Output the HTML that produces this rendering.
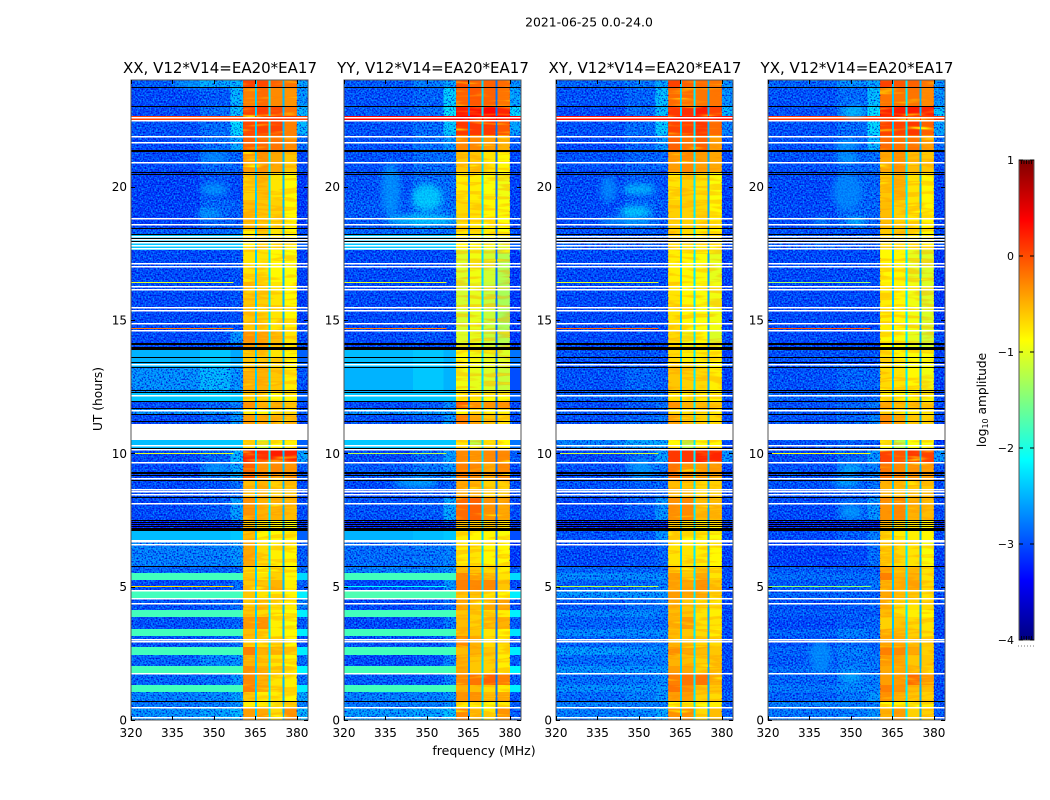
<!DOCTYPE html>
<html lang="en">
<head>
<meta charset="utf-8">
<title>2021-06-25 waterfall</title>
<style>
html,body{margin:0;padding:0;background:#fff;width:1050px;height:800px;overflow:hidden}
svg{display:block}
text{font-family:"DejaVu Sans","Liberation Sans",sans-serif;fill:#000}
.tick-label{font-size:12px}
.panel-title{font-size:15px;text-anchor:middle}
</style>
</head>
<body>
<svg id="chart" width="1050" height="800" viewBox="0 0 1050 800" xmlns="http://www.w3.org/2000/svg">
  <defs>
    <filter id="speckle" x="0" y="0" width="100%" height="100%" color-interpolation-filters="sRGB">
      <feTurbulence type="fractalNoise" baseFrequency="0.62" numOctaves="1" seed="7" result="n"/>
      <feColorMatrix in="n" type="matrix" values="0 0 0 0 0  0 0 0 0 0  0 0 0 0 0.82  -3.2 0 0 0 1.7" result="dark"/>
      <feColorMatrix in="n" type="matrix" values="0 0 0 0 0  0 0 0 0 0.7  0 0 0 0 1  3.2 0 0 0 -1.65" result="light"/>
      <feMerge><feMergeNode in="dark"/><feMergeNode in="light"/></feMerge>
    </filter>
    <filter id="band-texture" x="0" y="0" width="100%" height="100%" color-interpolation-filters="sRGB">
      <feTurbulence type="fractalNoise" baseFrequency="0.03 0.22" numOctaves="2" seed="11"/>
      <feColorMatrix type="matrix" values="0 0 0 0 1  1.8 0 0 0 -0.55  0 0 0 0 0  2.4 0 0 0 -1.15"/>
    </filter>
    <filter id="blob-blur" x="-40%" y="-80%" width="180%" height="260%"><feGaussianBlur stdDeviation="3.2"/></filter>
    <linearGradient id="jet-gradient" x1="0" y1="1" x2="0" y2="0"></linearGradient>
  </defs>
  <text x="589" y="26.5" font-size="12.4" text-anchor="middle">2021-06-25 0.0-24.0</text>
  <text class="panel-title" x="220" y="73">XX, V12*V14=EA20*EA17</text>
  <text class="panel-title" x="433" y="73">YY, V12*V14=EA20*EA17</text>
  <text class="panel-title" x="645" y="73">XY, V12*V14=EA20*EA17</text>
  <text class="panel-title" x="857" y="73">YX, V12*V14=EA20*EA17</text>
  <text x="484" y="755" font-size="12.5" text-anchor="middle">frequency (MHz)</text>
  <text x="0" y="0" font-size="12.2" text-anchor="middle" transform="translate(102,399) rotate(-90)">UT (hours)</text>
  <text x="0" y="0" font-size="12.2" text-anchor="middle" transform="translate(986,400) rotate(-90)">log<tspan font-size="8" dy="2">10</tspan><tspan dy="-2"> amplitude</tspan></text>
  <g id="panels"></g>
  <g id="colorbar"></g>
</svg>
<script>
// ---- axis data ----
const panelNames = ['xx', 'yy', 'xy', 'yx'];
const xTicks = [320, 335, 350, 365, 380];
const yTicks = [0, 5, 10, 15, 20];
const colorbarTicks = [-4, -3, -2, -1, 0, 1];
const freqEdges = [320, 345, 356, 360.5, 364.8, 365.5, 369.8, 370.5, 374.8, 375.5, 380, 384];
const timeEdges = [0, .45, .675, 1.05, 1.3125, 1.7625, 2.025, 2.4375, 2.7375, 3.15, 3.4125, 3.8625, 4.125, 4.575, 4.8375, 5.25, 5.5125, 5.7375, 6.5625, 6.7125, 7.0875, 7.5, 8.3625, 9, 9.675, 10.1625, 10.5, 11.1, 11.475, 11.7, 11.9625, 12.3, 13.2375, 13.875, 14.025, 14.625, 16.425, 17.625, 18.1875, 18.45, 19.5, 20.5125, 21.3375, 21.9375, 22.4625, 22.65, 22.9875, 23.7375, 24];

// ---- log10 amplitude by time row (bottom first): low, mid, edge, band1-4, right ----
const xxLevels = [
[-2.6,-2.5,-2.4,-.4,-.45,-.7,-.35,-2.4],[-2.75,-2.7,-2.6,-.8,-.8,-.9,-.7,-2.7],[-2.7,-2.65,-2.5,-.6,-.8,-.8,-.85,-2.5],[-1.8,-1.8,-1.8,-.25,-.45,-.7,-.8,-2.2],
[-2.85,-2.8,-2.6,-.3,-.5,-.75,-.8,-2.8],[-1.78,-1.78,-1.78,-.35,-.5,-.65,-.75,-2.15],[-2.85,-2.65,-2.6,-.5,-.6,-.75,-.85,-2.8],[-1.8,-1.8,-1.8,-.25,-.5,-.55,-.65,-2.2],
[-2.95,-2.9,-2.8,-.65,-.7,-.7,-.85,-3],[-1.8,-1.8,-1.8,-.55,-.65,-.8,-.85,-2.2],[-2.95,-2.9,-2.85,-.4,-.35,-.8,-.9,-2.9],[-1.8,-1.8,-1.8,-.6,-.7,-.8,-.9,-2.2],
[-2.95,-2.9,-2.8,-.6,-.55,-.7,-.8,-2.7],[-1.8,-1.8,-1.8,-.6,-.75,-.8,-.85,-2.2],[-3,-2.95,-2.8,-.6,-.6,-.5,-.8,-2.9],[-1.8,-1.8,-1.8,-.6,-.75,-.65,-.85,-2.3],
[-2.85,-2.85,-2.85,-.7,-.85,-.7,-.85,-2.8],[-2.7,-2.7,-2.6,-.45,-.7,-.8,-.85,-2.9],[-2.7,-2.7,-2.6,-.45,-.7,-.8,-.85,-2.9],[-2.45,-2.45,-2.4,-.55,-.85,-.85,-.85,-2.9],
[-3.2,-3.2,-3.1,-.6,-.8,-.85,-.9,-3.1],[-3,-2.9,-2.55,-.35,-.5,-.5,-.55,-3],[-3,-2.95,-2.8,-.55,-.5,-.65,-.6,-3],[-3,-2.8,-2.5,-.1,-.35,-.3,-.35,-2.9],
[-3,-2.85,-2.4,.2,.15,.25,.2,-2.5],[-2.45,-2.4,-2.4,-.75,-1.1,-.85,-.8,-2.9],[-2.45,-2.4,-2.4,-.75,-1.1,-.85,-.8,-2.9],[-3,-2.85,-2.6,-.4,-.45,-.5,-.55,-3],
[-2.6,-2.55,-2.5,-.8,-.85,-.85,-.85,-2.9],[-3,-2.85,-2.7,-.35,-.5,-.5,-.6,-3],[-2.4,-2.35,-2.4,-.7,-.7,-.85,-.85,-2.9],[-2.6,-2.4,-2.6,-.5,-.5,-.6,-.8,-2.95],
[-2.5,-2.4,-2.55,-.6,-.6,-.75,-.85,-2.9],[-3,-3,-3,-.4,-.45,-.6,-.8,-3],[-3,-2.95,-2.6,-.35,-.45,-.55,-.75,-3],[-3,-3,-2.95,-.6,-.65,-.75,-.85,-3.05],
[-3,-3,-2.95,-.75,-.75,-.85,-.9,-3.05],[-2.4,-2.4,-2.4,-.8,-.65,-.8,-.9,-2.9],[-2.9,-2.85,-2.8,-.8,-.6,-.75,-.85,-3],[-3.05,-2.85,-2.9,-.55,-.6,-.65,-.85,-3.1],
[-3.05,-2.95,-3,-.65,-.55,-.75,-.85,-3.1],[-3,-2.85,-2.85,-.4,-.35,-.45,-.6,-3],[-3,-2.8,-2.5,-.1,-.15,-.2,-.3,-2.8],[-2.95,-2.8,-2.2,.02,.05,.05,-.25,-2.4],
[.05,.05,.05,.1,.1,.1,.1,.05],[-3,-2.8,-2.35,.05,.08,.02,-.2,-2.4],[-3,-2.9,-2.4,-.25,-.15,-.3,-.35,-2.6],[-2.9,-2.5,-2.4,.05,.02,-.1,-.2,-2.5]
];
const yyLevels = [
[-2.55,-2.5,-2.35,-.3,-.55,-.75,-.35,-2.9],[-2.75,-2.7,-2.6,-.8,-.8,-.9,-.8,-2.9],[-2.7,-2.7,-2.6,-.35,-.35,-.55,-.45,-2.95],[-1.8,-1.8,-1.8,-.5,-.55,-.7,-.8,-2.2],
[-2.9,-2.9,-2.7,-.3,-.2,-.1,-.25,-2.9],[-1.78,-1.78,-1.78,-.45,-.6,-.65,-.8,-2.15],[-3,-2.95,-2.7,-.5,-.6,-.65,-.8,-2.9],[-1.8,-1.8,-1.8,-.55,-.5,-.6,-.75,-2.2],
[-2.95,-2.95,-2.75,-.3,-.5,-.7,-.8,-3],[-1.8,-1.8,-1.8,-.55,-.6,-.75,-.85,-2.25],[-3,-2.95,-2.75,-.55,-.65,-.55,-.5,-2.9],[-1.8,-1.8,-1.8,-.6,-.65,-.7,-.8,-2.2],
[-3,-2.95,-2.8,-.45,-.55,-.45,-.45,-3],[-1.75,-1.75,-1.75,-.6,-.6,-.75,-.85,-2.2],[-3,-2.95,-2.6,-.25,-.3,-.3,-.6,-3],[-1.8,-1.8,-1.8,-.3,-.45,-.55,-.75,-2.3],
[-2.7,-2.7,-2.6,-.55,-.6,-.7,-.8,-2.9],[-2.8,-2.75,-2.7,-.8,-.75,-.85,-.85,-3.1],[-2.8,-2.75,-2.7,-.8,-.75,-.85,-.85,-3.1],[-2.5,-2.45,-2.4,-.8,-.85,-.85,-.9,-3],
[-3.2,-3.2,-3.1,-.6,-.65,-.7,-.75,-3.1],[-2.95,-2.9,-2.5,-.15,-.1,-.35,-.45,-3],[-3,-2.95,-2.85,-.45,-.5,-.65,-.65,-3],[-2.9,-2.75,-2.6,-.25,-.3,-.45,-.3,-3],
[-3,-2.85,-2.55,-.3,-.35,-.3,-.3,-2.9],[-2.4,-2.4,-2.4,-.75,-1.2,-.85,-.85,-2.8],[-2.4,-2.4,-2.4,-.75,-1.2,-.85,-.85,-2.8],[-2.95,-2.85,-2.6,-.25,-.45,-.6,-.7,-3],
[-2.55,-2.55,-2.55,-.85,-.85,-.85,-.85,-2.9],[-3,-2.9,-2.65,-.1,-.35,-.35,-.35,-3],[-2.4,-2.4,-2.4,-.8,-.8,-.9,-.9,-2.9],[-2.5,-2.4,-2.5,-.95,-1,-1.05,-1.15,-3],
[-2.45,-2.4,-2.5,-.9,-.95,-1,-1.05,-2.8],[-3,-3,-3,-1,-1,-1.1,-1.25,-3],[-3,-2.95,-3,-1.05,-1,-1.15,-1.25,-3.1],[-3,-3,-3,-1.1,-1,-1.15,-1.3,-3.1],
[-3,-3,-3,-1.05,-.95,-1.1,-1.25,-3.1],[-2.4,-2.4,-2.4,-.85,-.9,-.95,-1.05,-2.9],[-2.85,-2.8,-2.8,-.75,-.7,-.8,-.9,-3],[-2.9,-2.75,-2.8,-.7,-.75,-.85,-.9,-3.05],
[-2.95,-2.8,-2.8,-.8,-.8,-.9,-.95,-3.05],[-2.95,-2.8,-2.8,-.6,-.6,-.75,-.85,-3],[-2.95,-2.8,-2.6,-.3,-.3,-.4,-.5,-2.9],[-2.95,-2.8,-2.3,.1,.1,.1,-.05,-2.5],
[.4,.4,.4,.4,.4,.4,.4,.4],[-2.9,-2.8,-2.1,.25,.3,.35,.2,-2.2],[-2.95,-2.85,-2.25,-.1,-.05,-.1,-.2,-2.5],[-2.9,-2.7,-2.5,0,-.1,-.1,-.15,-2.6]
];
const xyLevels = [
[-2.7,-2.65,-2.5,-.35,-.35,-.7,-.55,-2.9],[-2.7,-2.7,-2.7,-.85,-.85,-.9,-.8,-2.9],[-2.8,-2.7,-2.6,-.4,-.4,-.65,-.7,-2.9],[-2.62,-2.62,-2.6,-.2,-.3,-.6,-.6,-3],
[-2.8,-2.75,-2.65,-.25,-.2,-.2,-.5,-3],[-2.6,-2.6,-2.6,-.4,-.45,-.65,-.6,-3],[-2.8,-2.75,-2.7,-.5,-.55,-.65,-.6,-3],[-2.55,-2.6,-2.65,-.35,-.45,-.55,-.6,-3],
[-2.85,-2.8,-2.75,-.55,-.55,-.65,-.7,-3],[-2.65,-2.65,-2.65,-.55,-.6,-.7,-.8,-3],[-2.85,-2.8,-2.8,-.5,-.4,-.75,-.75,-3],[-2.7,-2.65,-2.75,-.55,-.6,-.75,-.8,-3],
[-2.9,-2.8,-2.75,-.5,-.6,-.7,-.75,-3],[-2.6,-2.6,-2.6,-.4,-.45,-.45,-.7,-3],[-2.85,-2.8,-2.7,-.45,-.45,-.35,-.6,-3],[-2.65,-2.65,-2.65,-.4,-.6,-.45,-.75,-3],
[-2.85,-2.85,-2.85,-.6,-.65,-.6,-.75,-3],[-3,-2.95,-2.85,-.75,-.75,-.8,-.85,-3.05],[-3,-2.95,-2.85,-.75,-.75,-.8,-.85,-3.05],[-2.95,-2.9,-2.6,-.75,-.85,-.8,-.9,-3],
[-3.2,-3.2,-3.2,-.7,-.8,-.85,-.85,-3.1],[-3,-2.9,-2.6,-.35,-.3,-.55,-.55,-3],[-2.95,-2.9,-2.85,-.55,-.6,-.7,-.65,-3],[-2.95,-2.8,-2.75,-.2,-.35,-.4,-.4,-3],
[-3,-2.85,-2.55,.1,.1,.2,.2,-2.6],[-2.7,-2.5,-2.5,-.85,-1.2,-.9,-.85,-3],[-2.7,-2.5,-2.5,-.85,-1.2,-.9,-.85,-3],[-2.95,-2.85,-2.75,-.45,-.6,-.65,-.7,-3],
[-2.9,-2.9,-2.9,-.7,-.75,-.75,-.8,-3],[-3,-2.9,-2.8,-.35,-.5,-.55,-.6,-3],[-2.85,-2.8,-2.8,-.75,-.8,-.8,-.85,-3],[-2.95,-2.85,-2.9,-.6,-.65,-.7,-.8,-3.05],
[-2.95,-2.95,-2.95,-.7,-.8,-.8,-.85,-3.05],[-3,-3,-3,-.7,-.9,-.85,-1,-3],[-3,-3,-3,-.7,-.95,-.85,-1.05,-3],[-3,-3,-3,-.75,-.85,-.9,-.95,-3.05],
[-3,-3,-3,-.8,-.85,-.9,-1,-3.05],[-2.9,-2.9,-2.9,-.7,-.75,-.8,-.85,-3],[-2.95,-2.9,-2.9,-.65,-.7,-.8,-.85,-3],[-3,-2.85,-2.9,-.65,-.65,-.7,-.85,-3.05],
[-3,-2.9,-2.95,-.75,-.65,-.75,-.9,-3.05],[-2.95,-2.85,-2.85,-.4,-.3,-.4,-.45,-3],[-3,-2.85,-2.6,-.1,-.2,-.1,-.4,-2.9],[-2.95,-2.8,-2.3,.05,.05,.1,-.15,-2.7],
[.3,.3,.3,.3,.3,.3,.3,.3],[-3,-2.8,-2.35,.1,.15,.25,.05,-2.4],[-2.95,-2.85,-2.35,-.15,-.15,-.2,-.2,-2.6],[-2.85,-2.75,-2.5,.05,-.1,-.15,-.2,-2.6]
];
const yxLevels = [
[-2.75,-2.7,-2.6,-.5,-.4,-.65,-.65,-2.9],[-2.7,-2.7,-2.7,-.85,-.85,-.9,-.8,-2.9],[-2.85,-2.75,-2.6,-.35,-.5,-.6,-.65,-3],[-2.75,-2.65,-2.7,-.25,-.35,-.55,-.55,-3],
[-2.85,-2.75,-2.7,-.4,-.4,-.15,-.4,-3],[-2.8,-2.7,-2.75,-.45,-.5,-.55,-.7,-3],[-2.9,-2.75,-2.75,-.4,-.45,-.6,-.6,-3],[-2.85,-2.7,-2.8,-.25,-.3,-.45,-.65,-3],
[-2.95,-2.8,-2.85,-.45,-.45,-.6,-.7,-3],[-2.85,-2.7,-2.8,-.5,-.55,-.65,-.75,-3.05],[-3,-2.9,-2.85,-.65,-.6,-.7,-.75,-3],[-2.9,-2.9,-2.9,-.55,-.75,-.8,-.85,-3.05],
[-2.95,-2.9,-2.85,-.5,-.7,-.75,-.7,-3],[-2.85,-2.85,-2.85,-.45,-.55,-.6,-.75,-3],[-2.9,-2.85,-2.75,-.5,-.5,-.45,-.7,-3],[-2.8,-2.8,-2.8,-.25,-.5,-.5,-.75,-3],
[-2.9,-2.9,-2.9,-.45,-.6,-.6,-.75,-3],[-3.05,-3,-2.8,-.65,-.7,-.75,-.9,-3.05],[-3.05,-3,-2.8,-.65,-.7,-.75,-.9,-3.05],[-3,-2.9,-2.7,-.7,-.8,-.8,-.85,-3],
[-3.2,-3.2,-3.2,-.55,-.7,-.75,-.85,-3.1],[-3,-2.85,-2.6,-.35,-.3,-.5,-.55,-3],[-2.95,-2.9,-2.8,-.5,-.55,-.6,-.6,-3],[-2.95,-2.8,-2.7,-.2,-.3,-.35,-.4,-2.95],
[-3,-2.85,-2.6,.05,-.05,.1,.05,-2.6],[-2.95,-2.85,-2.9,-.9,-1.2,-.9,-.9,-3.1],[-2.95,-2.85,-2.9,-.9,-1.2,-.9,-.9,-3.1],[-2.95,-2.85,-2.7,-.3,-.45,-.6,-.65,-3],
[-2.9,-2.9,-2.9,-.7,-.8,-.8,-.85,-3],[-2.95,-2.85,-2.75,-.45,-.55,-.55,-.65,-3],[-2.85,-2.85,-2.85,-.8,-.85,-.85,-.9,-3],[-2.95,-2.85,-2.85,-.7,-.75,-.85,-.95,-3.05],
[-2.95,-2.95,-2.95,-.75,-.85,-.9,-.9,-3.05],[-3,-3,-3,-.85,-.9,-1,-1.1,-3],[-3,-3,-3,-.85,-.9,-1,-1.1,-3],[-3,-3,-3,-.8,-.85,-.95,-1.05,-3.1],
[-3,-3,-3,-.85,-.85,-1,-1.05,-3.1],[-2.9,-2.9,-2.9,-.7,-.75,-.8,-.85,-3],[-2.95,-2.95,-2.95,-.6,-.6,-.75,-.85,-3],[-3,-2.85,-2.85,-.55,-.65,-.75,-.85,-3.05],
[-3,-2.85,-2.85,-.6,-.5,-.75,-.85,-3.05],[-2.95,-2.85,-2.8,-.45,-.35,-.55,-.6,-3],[-2.95,-2.85,-2.4,-.15,-.2,-.2,-.4,-2.8],[-2.95,-2.8,-2.2,.05,.05,.1,-.1,-2.5],
[.1,.1,.1,.1,.1,.1,.1,.1],[-2.95,-2.75,-2.15,.2,.25,.25,.2,-2.3],[-2.95,-2.8,-2.35,-.2,-.2,-.2,-.3,-2.6],[-2.85,-2.6,-2.5,.05,-.05,-.1,-.2,-2.6]
];
// level of the three narrow gaps between the 4 loud sub-bands (365, 370, 375 MHz)
const xxGaps = [-2.35, -2.2, -2.45];
const yyGaps = [-2.7, -2.3, -2.8];
const xyGaps = [-2.35, -2.2, -2.5];
const yxGaps = [-2.4, -2.2, -2.5];

// ---- diffuse emission patches ----
const blobPanel = [0,0,0,0,0, 1,1,1,1, 2,2,2,2,2, 3,3,3,3,3,3,3,3,3,3,3];
const blobFreq  = [350,348,342,350,351, 350,337,348,346, 350,348.5,345.6,339,351, 351.7,339,348.5,348.5,348.5,351,350,348.5,350,339,350];
const blobHour  = [19.9,19,23.85,21.1,9.4, 19.6,19.9,18.75,8.9, 19.9,19.06,18.7,19.9,9.4, 18.7,18.7,19.8,21.56,21.07,22.8,9.4,8.9,7.8,2.4,1.6];
const blobRx    = [5,4.5,7,5,5, 5.5,3.5,13,8, 6,6,10,3,4, 3.5,2.5,5.5,4,4,4,4,5,4,4,4];
const blobRy    = [.25,.15,.12,.2,.2, .5,1,.2,.2, .2,.2,.15,.5,.4, .15,.12,.7,.2,.2,.25,.2,.15,.3,.6,.2];
const blobLevel = [-2.55,-2.45,-2.35,-2.6,-2.55, -2.2,-2.55,-2.2,-2.4, -2.3,-2.15,-2.45,-2.6,-2.55, -2.25,-2.4,-2.65,-2.5,-2.5,-2.35,-2.4,-2.35,-2.55,-2.6,-2.45];

// ---- narrow interference rows across 320-357 MHz ----
const rfiHours = [16.41, 14.68, 10.0, 5.0];
const xxRfi = [-1, -.2, -1, -.7];
const yyRfi = [-1, -.2, -1.2, -2.1];
const xyRfi = [-1, -.1, -1.1, -1.2];
const yxRfi = [-1.3, 0, -.9, -1.4];

// ---- flagged integrations (hours) ----
const whiteHours = [22.575,22.474,21.889,21.664,20.914,18.814,18.589,18.11,18,17.89,17.79,17.69,17.125,17.01,16.26,16.15,15.476,15.364,14.876,14.614,13.3125,12.169,11.614,10.3,10.15,9.664,9.064,8.651,8.55,8.449,8.126,6.73,6.69,6.589,4.864,4.564,4.376,3.026,2.925,1.751,.476,.086];
const blackHours = [23.726,22.999,21.356,21.319,20.55,20.475,18.45,18.19,18.056,17.944,14.1375,14.08,13.9875,13.95,13.9125,13.586,13.399,13.219,12.375,12.3,11.9625,11.7,11.449,11.186,10.189,9.281,9.244,9.161,9,8.3625,7.474,7.399,7.324,7.249,7.174,7.136,7.099,5.749,.686];
const whiteSpanStart = [10.5];
const whiteSpanEnd = [11.1];

// ---- geometry ----
const panelLeft = [131, 344, 556, 768];
const panelWidth = 177, plotTop = 80, plotBottom = 720;
const SVGNS = 'http://www.w3.org/2000/svg';
const allLevels = [xxLevels, yyLevels, xyLevels, yxLevels];
const allGaps = [xxGaps, yyGaps, xyGaps, yxGaps];
const allRfi = [xxRfi, yyRfi, xyRfi, yxRfi];

function xScale(panel, mhz) { return panelLeft[panel] + (mhz - 320) * panelWidth / 64; }
function yScale(hour) { return plotBottom - hour * (plotBottom - plotTop) / 24; }
function clip01(v) { return Math.max(0, Math.min(1, v)); }
function jet(level) {
  const t = clip01((level + 4) / 5);
  const r = clip01(1.5 - Math.abs(4 * t - 3));
  const g = clip01(1.5 - Math.abs(4 * t - 2));
  const b = clip01(1.5 - Math.abs(4 * t - 1));
  return 'rgb(' + Math.round(r * 255) + ',' + Math.round(g * 255) + ',' + Math.round(b * 255) + ')';
}
function make(tag, attrs, parent) {
  const el = document.createElementNS(SVGNS, tag);
  for (const k in attrs) el.setAttribute(k, attrs[k]);
  parent.appendChild(el);
  return el;
}
// freq column index -> level for that cell
function cellLevel(panel, row, col) {
  const r = allLevels[panel][row], g = allGaps[panel];
  const map = [0, 1, 2, 3, 'g0', 4, 'g1', 5, 'g2', 6, 7];
  const m = map[col];
  if (typeof m === 'string') return r[2] > -.5 ? r[2] : g[+m[1]];
  return r[m];
}

const panelsRoot = document.getElementById('panels');
panelNames.forEach(function (name, p) {
  const g = make('g', {}, panelsRoot);
  
  
  const clipId = 'clip-' + name;
  const cp = make('clipPath', { id: clipId }, g);
  make('rect', { x: panelLeft[p], y: plotTop, width: panelWidth, height: plotBottom - plotTop }, cp);
  const plot = make('g', { 'clip-path': 'url(#' + clipId + ')' }, g);
  
  

  // heatmap cells
  for (let row = 0; row < timeEdges.length - 1; row++) {
    for (let col = 0; col < freqEdges.length - 1; col++) {
      const level = cellLevel(p, row, col);
      const x0 = xScale(p, freqEdges[col]), x1 = xScale(p, freqEdges[col + 1]);
      const y0 = yScale(timeEdges[row + 1]), y1 = yScale(timeEdges[row]);
      const cell = make('rect', { x: x0, y: y0, width: x1 - x0, height: y1 - y0, fill: jet(level), 'shape-rendering': 'crispEdges' }, plot);
      
      
    }
  }
  // speckle over the quiet cells
  for (let row = 0; row < timeEdges.length - 1; row++) {
    const r = allLevels[p][row];
    if (r[0] >= -2.5 && r[0] <= -1.7) continue;
    if (r[0] > -1) continue;
    const y0 = yScale(timeEdges[row + 1]), y1 = yScale(timeEdges[row]);
    const x0 = xScale(p, 320), x1 = xScale(p, freqEdges[3]);
    const sp = make('rect', { x: x0, y: y0, width: x1 - x0, height: y1 - y0, fill: '#fff', filter: 'url(#speckle)' }, plot);
    
    
    const xr = xScale(p, freqEdges[10]);
    const spr = make('rect', { x: xr, y: y0, width: xScale(p, 384) - xr, height: y1 - y0, fill: '#fff', filter: 'url(#speckle)' }, plot);
    
    
  }
  // streaky structure inside the four loud sub-bands
  [3, 5, 7, 9].forEach(function (c) {
    const x0 = xScale(p, freqEdges[c]), x1 = xScale(p, freqEdges[c + 1]);
    const tex = make('rect', { x: x0, y: plotTop, width: x1 - x0, height: plotBottom - plotTop, fill: '#fff', filter: 'url(#band-texture)' }, plot);
    
    
  });
  // diffuse patches
  blobPanel.forEach(function (bp, i) {
    if (bp !== p) return;
    const cx = xScale(p, blobFreq[i]), cy = yScale(blobHour[i]);
    const blob = make('ellipse', { cx: cx, cy: cy, rx: xScale(p, blobFreq[i] + blobRx[i]) - cx, ry: cy - yScale(blobHour[i] + blobRy[i]), fill: jet(blobLevel[i]), opacity: .65, filter: 'url(#blob-blur)' }, plot);
    
    
  });
  // interference rows
  rfiHours.forEach(function (h, i) {
    const y = yScale(h);
    const line = make('rect', { x: xScale(p, 320), y: y - .5, width: xScale(p, 357) - xScale(p, 320), height: 1, fill: jet(allRfi[p][i]), 'shape-rendering': 'crispEdges' }, plot);
    
    
  });
  // flags
  whiteHours.forEach(function (h) {
    const fl = make('rect', { x: panelLeft[p], y: Math.round(yScale(h) - .6), width: panelWidth, height: 1.6, fill: '#fff', 'shape-rendering': 'crispEdges' }, plot);
    
    
  });
  blackHours.forEach(function (h) {
    const fl = make('rect', { x: panelLeft[p], y: Math.round(yScale(h) - .5), width: panelWidth, height: 1, fill: '#000', 'shape-rendering': 'crispEdges' }, plot);
    
    
  });
  whiteSpanStart.forEach(function (s, i) {
    const y0 = yScale(whiteSpanEnd[i]);
    const fl = make('rect', { x: panelLeft[p], y: y0, width: panelWidth, height: yScale(s) - y0, fill: '#fff', 'shape-rendering': 'crispEdges' }, plot);
    
    
  });

  // frame
  const frame = make('rect', { x: panelLeft[p], y: plotTop, width: panelWidth, height: plotBottom - plotTop, fill: 'none', stroke: '#555', 'stroke-width': 1 }, g);
  
  

  // ticks
  xTicks.forEach(function (t) {
    const x = Math.round(xScale(p, t)) + .5;
    const a = make('line', { x1: x, x2: x, y1: plotBottom, y2: plotBottom - 4, stroke: '#000' }, g);
    
    
    const b = make('line', { x1: x, x2: x, y1: plotTop, y2: plotTop + 4, stroke: '#000' }, g);
    
    
    const lab = make('text', { x: xScale(p, t), y: 737, 'text-anchor': 'middle', class: 'tick-label' }, g);
    lab.textContent = t;
    
    
  });
  yTicks.forEach(function (t) {
    const y = Math.round(yScale(t)) + .5;
    const a = make('line', { x1: panelLeft[p], x2: panelLeft[p] + 4, y1: y, y2: y, stroke: '#000' }, g);
    
    
    const b = make('line', { x1: panelLeft[p] + panelWidth, x2: panelLeft[p] + panelWidth - 4, y1: y, y2: y, stroke: '#000' }, g);
    
    
    const lab = make('text', { x: panelLeft[p] - 4, y: yScale(t) + 4.5, 'text-anchor': 'end', class: 'tick-label' }, g);
    lab.textContent = t;
    
    
  });
});

// ---- colorbar ----
const cbLeft = 1019, cbWidth = 15, cbTop = 160, cbBottom = 640;
function cbScale(v) { return cbBottom - (v + 4) * (cbBottom - cbTop) / 5; }
const grad = document.getElementById('jet-gradient');
for (let i = 0; i <= 40; i++) {
  make('stop', { offset: (i / 40), 'stop-color': jet(-4 + i / 8) }, grad);
}
const cb = document.getElementById('colorbar');
const cbRect = make('rect', { x: cbLeft, y: cbTop, width: cbWidth, height: cbBottom - cbTop, fill: 'url(#jet-gradient)', stroke: '#555', 'stroke-width': 1 }, cb);


colorbarTicks.forEach(function (t) {
  const y = cbScale(t);
  const a = make('line', { x1: cbLeft, x2: cbLeft + 4, y1: y, y2: y, stroke: '#000' }, cb);
  
  
  const b = make('line', { x1: cbLeft + cbWidth, x2: cbLeft + cbWidth - 4, y1: y, y2: y, stroke: '#000' }, cb);
  
  
  const lab = make('text', { x: cbLeft - 5, y: y + 4, 'text-anchor': 'end', style: 'font-size:11px' }, cb);
  lab.textContent = t < 0 ? '\u2212' + Math.abs(t) : t;
  
  
});
[2.5, 5, 7.5, 10, 12.5].forEach(function (off) {
  const top = make('line', { x1: cbLeft + off, x2: cbLeft + off, y1: cbTop, y2: cbTop + 4, stroke: '#000', 'stroke-width': .8 }, cb);
  
  
  const bot = make('line', { x1: cbLeft + off, x2: cbLeft + off, y1: cbBottom, y2: cbBottom - 4, stroke: '#000', 'stroke-width': .8 }, cb);
  
  
});
const dots = make('line', { x1: 1018, x2: 1035, y1: 646, y2: 646, stroke: '#777', 'stroke-dasharray': '1 2' }, cb);


</script>
</body>
</html>
